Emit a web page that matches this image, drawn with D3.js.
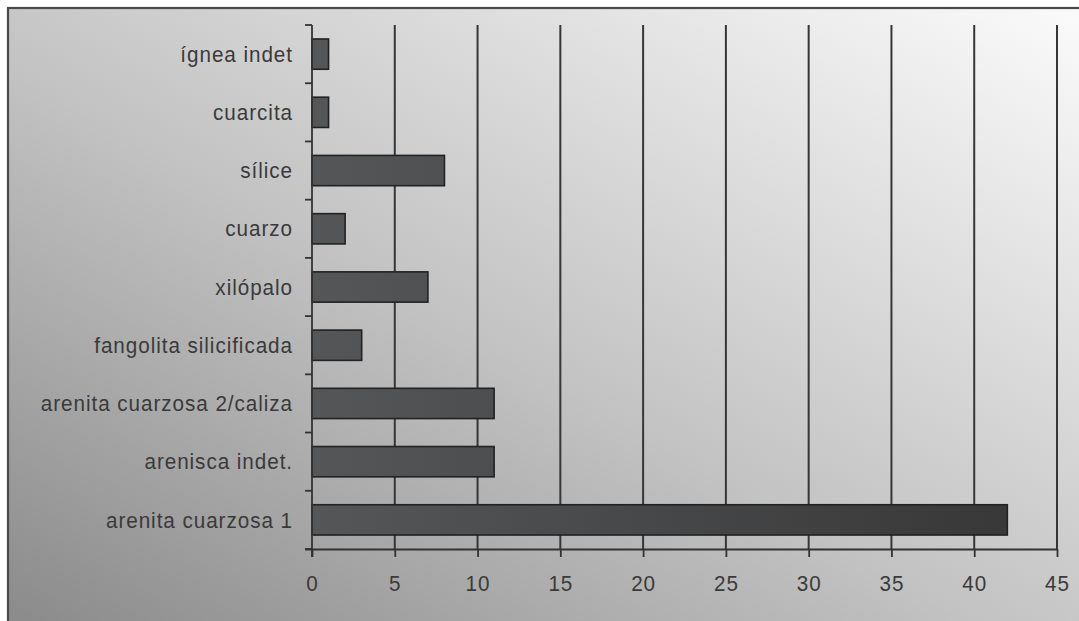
<!DOCTYPE html>
<html>
<head>
<meta charset="utf-8">
<script src="https://cdn.jsdelivr.net/npm/d3@7"></script>
<style>
  html, body { margin: 0; padding: 0; background: #ffffff; }
  svg { display: block; }
</style>
</head>
<body>
<svg id="chart" width="1079" height="621"></svg>
<script>
const categories = [
  "ígnea indet",
  "cuarcita",
  "sílice",
  "cuarzo",
  "xilópalo",
  "fangolita silicificada",
  "arenita cuarzosa 2/caliza",
  "arenisca indet.",
  "arenita cuarzosa 1"
];
const values = [1, 1, 8, 2, 7, 3, 11, 11, 42];
const xTicks = [0, 5, 10, 15, 20, 25, 30, 35, 40, 45];

const svg = d3.select("#chart");
const W = 1079, H = 621;
const plot = { left: 312, right: 1057, top: 25, bottom: 549 };
const FONT = "'Liberation Sans', Arial, sans-serif";
const SX = 0.94;

const defs = svg.append("defs");
const bg = defs.append("linearGradient").attr("id", "bgGrad")
  .attr("x1", "0%").attr("y1", "100%").attr("x2", "100%").attr("y2", "0%");
bg.append("stop").attr("offset", "0%").attr("stop-color", "#8a8a8a");
bg.append("stop").attr("offset", "45%").attr("stop-color", "#c2c2c2");
bg.append("stop").attr("offset", "100%").attr("stop-color", "#fbfbfb");

const barGrad = defs.append("linearGradient").attr("id", "barGrad")
  .attr("gradientUnits", "userSpaceOnUse")
  .attr("x1", plot.left).attr("y1", 0).attr("x2", plot.right).attr("y2", 0);
barGrad.append("stop").attr("offset", "0%").attr("stop-color", "#555657");
barGrad.append("stop").attr("offset", "100%").attr("stop-color", "#363637");

// background frame
svg.append("rect").attr("x", 8).attr("y", 8).attr("width", W).attr("height", H)
  .attr("fill", "url(#bgGrad)").attr("stroke", "#4a4a4a").attr("stroke-width", 2.2);

const x = d3.scaleLinear().domain([0, 45]).range([plot.left, plot.right]);
const y = d3.scaleBand().domain(categories).range([plot.top, plot.bottom])
  .paddingInner(0.48).paddingOuter(0.24);

// gridlines
svg.append("g").selectAll("line").data(xTicks.filter(d => d > 0)).join("line")
  .attr("x1", d => x(d)).attr("x2", d => x(d))
  .attr("y1", plot.top).attr("y2", plot.bottom)
  .attr("stroke", "#363636").attr("stroke-width", 2);

// bars
svg.append("g").selectAll("rect").data(categories).join("rect")
  .attr("x", x(0))
  .attr("y", d => y(d))
  .attr("width", (d, i) => x(values[i]) - x(0))
  .attr("height", y.bandwidth())
  .attr("fill", "url(#barGrad)")
  .attr("stroke", "#222222").attr("stroke-width", 1.6);

// x axis
const xAxis = d3.axisBottom(x).tickValues(xTicks).tickSize(8).tickPadding(18)
  .tickFormat(d3.format("d"));
const gx = svg.append("g").attr("transform", `translate(0,${plot.bottom})`).call(xAxis);
gx.select(".domain").attr("d", `M${plot.left - 7},0.5H${plot.right}`)
  .attr("stroke", "#333").attr("stroke-width", 1.8);
gx.selectAll(".tick line").attr("stroke", "#333").attr("stroke-width", 1.8);
gx.selectAll(".tick text")
  .attr("fill", "#3a3a3a")
  .attr("transform", `scale(${SX},1)`)
  .style("font-family", FONT)
  .style("font-size", "22px")
  .style("letter-spacing", "1px");

// y axis (category boundary ticks)
const stepB = (plot.bottom - plot.top) / categories.length;
const gy = svg.append("g");
gy.append("line").attr("x1", plot.left).attr("x2", plot.left)
  .attr("y1", plot.top).attr("y2", plot.bottom + 8)
  .attr("stroke", "#333").attr("stroke-width", 1.8);
gy.selectAll("line.tk").data(d3.range(categories.length + 1)).join("line")
  .attr("class", "tk")
  .attr("x1", plot.left - 7).attr("x2", plot.left)
  .attr("y1", i => plot.top + i * stepB).attr("y2", i => plot.top + i * stepB)
  .attr("stroke", "#333").attr("stroke-width", 1.8);
gy.selectAll("text").data(categories).join("text")
  .attr("transform", d => `translate(${plot.left - 19},${y(d) + y.bandwidth() / 2}) scale(${SX},1)`)
  .attr("dy", "0.35em")
  .attr("text-anchor", "end")
  .attr("fill", "#3a3a3a")
  .style("font-family", FONT)
  .style("font-size", "22px")
  .style("letter-spacing", "1px")
  .text(d => d);
</script>
</body>
</html>
